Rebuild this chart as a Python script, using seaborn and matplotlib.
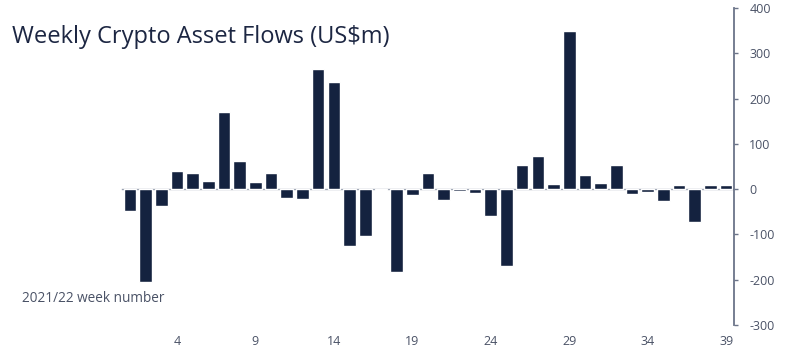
import numpy as np
import pandas as pd
import matplotlib
matplotlib.use("Agg")
import matplotlib.pyplot as plt
import seaborn as sns

# Weekly flows, US$m, for 2021/22 weeks 1..39
weeks = list(range(1, 40))
flows = [-48, -206, -38, 40, 35, 18, 170, 62, 16, 36,
         -19, -21, 266, 236, -125, -104, -2, -182, -12, 35,
         -24, -4, -9, -60, -170, 54, 72, 12, 350, 32,
         13, 54, -11, -7, -27, 10, -73, 9, 8]
label_weeks = [4, 9, 14, 19, 24, 29, 34, 39]
y_ticks = [-300, -200, -100, 0, 100, 200, 300, 400]

title = "Weekly Crypto Asset Flows (US$m)"
x_caption = "2021/22 week number"

navy = "#14223f"
axis_col = "#6b7489"
text_col = "#4a5266"

sns.set_theme(style="white")
plt.rcParams["font.family"] = ["Open Sans", "DejaVu Sans"]

df = pd.DataFrame({"week": [str(w) for w in weeks], "flow": flows})

fig = plt.figure(figsize=(8, 3.5), dpi=100)
ax = fig.add_axes([0.1525, 0.0714, 0.765, 0.906])

sns.barplot(data=df, x="week", y="flow", order=df["week"], color=navy,
            width=0.8, saturation=1, ax=ax)

ax.set_xlim(-0.5, len(weeks) - 0.5)
ax.set_ylim(-300, 400)

# y axis on the right
for s in ["left", "top"]:
    ax.spines[s].set_visible(False)
ax.spines["right"].set_color(axis_col)
ax.spines["right"].set_linewidth(1.3)
ax.yaxis.tick_right()
ax.set_yticks(y_ticks)
ax.set_yticklabels([str(v) for v in y_ticks])
ax.tick_params(axis="y", direction="out", length=3, width=1, color=axis_col,
               labelcolor=text_col, labelsize=9, pad=8)

# x axis line sits on zero, with small ticks between weeks
ax.spines["bottom"].set_position(("data", 0))
ax.spines["bottom"].set_color("#9aa1b0")
ax.spines["bottom"].set_linewidth(1.0)
ax.spines["bottom"].set_zorder(0.5)
ax.set_xticks(np.arange(len(weeks) + 1) - 0.5)
ax.set_xticklabels([])
ax.tick_params(axis="x", direction="out", length=3, width=0.8, color="#9aa1b0")
ax.set_xlabel("")
ax.set_ylabel("")

# week numbers along the bottom edge
sec = ax.secondary_xaxis("bottom")
sec.set_xticks([w - 1 for w in label_weeks])
sec.set_xticklabels([str(w) for w in label_weeks])
sec.tick_params(length=0, labelcolor=text_col, labelsize=9, pad=7)
sec.spines["bottom"].set_visible(False)

fig.text(0.015, 0.876, title, fontsize=17, color="#1c2642",
         ha="left", va="baseline")
fig.text(0.027, 0.136, x_caption, fontsize=9.8, color=text_col,
         ha="left", va="baseline")

fig.savefig("out.png", dpi=100, facecolor="white")
